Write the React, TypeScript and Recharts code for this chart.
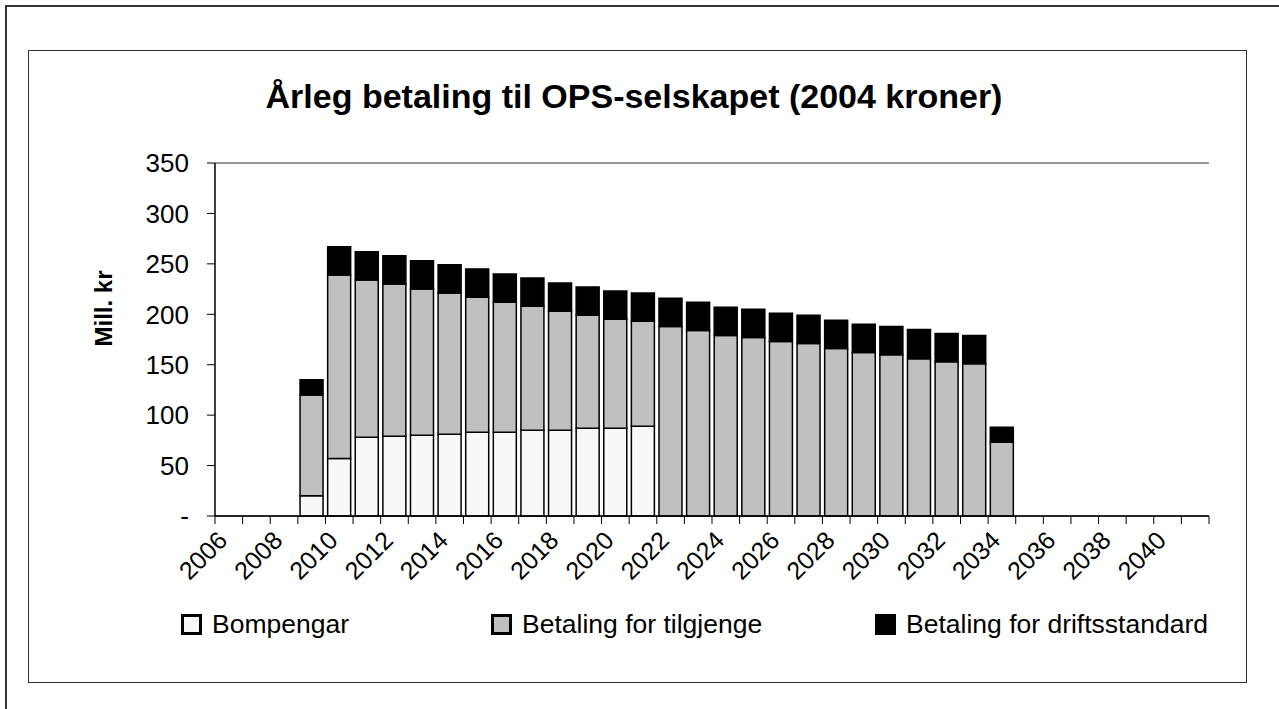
import React from "react";
import { BarChart, Bar, XAxis, YAxis, CartesianGrid, Legend, Label } from "recharts";

// category axis, one slot per year
const years = [
  "2006", "2007", "2008", "2009", "2010", "2011", "2012", "2013", "2014", "2015",
  "2016", "2017", "2018", "2019", "2020", "2021", "2022", "2023", "2024", "2025",
  "2026", "2027", "2028", "2029", "2030", "2031", "2032", "2033", "2034", "2035",
  "2036", "2037", "2038", "2039", "2040", "2041",
];

// Mill. kr per year
const bompengar = [
  null, null, null, 20, 57, 78, 79, 80, 81, 83,
  83, 85, 85, 87, 87, 89, null, null, null, null,
  null, null, null, null, null, null, null, null, null, null,
  null, null, null, null, null, null,
];
const tilgjenge = [
  null, null, null, 100, 182, 156, 151, 145, 140, 134,
  129, 123, 118, 112, 108, 104, 188, 184, 179, 177,
  173, 171, 166, 162, 160, 156, 153, 151, 73, null,
  null, null, null, null, null, null,
];
const drift = [
  null, null, null, 15, 28, 28, 28, 28, 28, 28,
  28, 28, 28, 28, 28, 28, 28, 28, 28, 28,
  28, 28, 28, 28, 28, 29, 28, 28, 15, null,
  null, null, null, null, null, null,
];

const yTicks = [0, 50, 100, 150, 200, 250, 300, 350];

const seriesNames = ["Bompengar", "Betaling for tilgjenge", "Betaling for driftsstandard"];
const seriesColors = ["#f8f8f8", "#c0c0c0", "#000000"];

const data = years.map((year, i) => ({
  year,
  bompengar: bompengar[i],
  tilgjenge: tilgjenge[i],
  drift: drift[i],
}));

const W = 1279;
const H = 709;
const M = { top: 163, right: 70, left: 0, bottom: 133 };
const Y_AXIS_W = 215;
const X_AXIS_H = 60;
const plotW = W - M.left - M.right - Y_AXIS_W;
const step = plotW / years.length;
const font = "Arial, 'Liberation Sans', Helvetica, sans-serif";

const XTick = (props: any) => {
  const { x, y, payload, index } = props;
  const left = x - step / 2;
  return (
    <g>
      <line x1={left} x2={left} y1={y} y2={y + 8} stroke="#000" strokeWidth={1} />
      {index === years.length - 1 && (
        <line x1={x + step / 2} x2={x + step / 2} y1={y} y2={y + 8} stroke="#000" strokeWidth={1} />
      )}
      {index % 2 === 0 && (
        <text
          transform={`translate(${x},${y + 26}) rotate(-45)`}
          textAnchor="end"
          fontSize={25}
          fontFamily={font}
          fill="#000"
        >
          {payload.value}
        </text>
      )}
    </g>
  );
};

const renderLegend = () => {
  const lefts = [181, 491, 875];
  return (
    <div style={{ position: "relative", height: 30, fontFamily: font, fontSize: 26.5 }}>
      {seriesNames.map((name, i) => (
        <div
          key={name}
          style={{ position: "absolute", left: lefts[i], top: 0, display: "flex", alignItems: "center", whiteSpace: "nowrap" }}
        >
          <span
            style={{
              display: "inline-block",
              boxSizing: "border-box",
              width: 21,
              height: 21,
              background: seriesColors[i],
              border: "3px solid #000",
              marginRight: 10,
            }}
          />
          <span>{name}</span>
        </div>
      ))}
    </div>
  );
};

export default function App() {
  return (
    <div style={{ position: "absolute", left: 0, top: 0, width: W, height: H, overflow: "hidden", background: "#fff" }}>
      <div style={{ position: "absolute", left: 5, top: 5, width: 1300, height: 730, border: "2px solid #333" }} />
      <div style={{ position: "absolute", left: 28, top: 50, width: 1217, height: 631, border: "1.5px solid #333" }} />
      <div
        style={{
          position: "absolute",
          left: 0,
          top: 77,
          width: 1268,
          textAlign: "center",
          fontFamily: font,
          fontWeight: "bold",
          fontSize: 34,
          color: "#000",
        }}
      >
        Årleg betaling til OPS-selskapet (2004 kroner)
      </div>
      <div style={{ position: "absolute", left: 0, top: 0 }}>
        <BarChart width={W} height={H} data={data} margin={M} barCategoryGap="8%">
          <CartesianGrid vertical={false} stroke="#333" strokeWidth={1} />
          <XAxis
            dataKey="year"
            interval={0}
            height={X_AXIS_H}
            tickLine={false}
            tickSize={0}
            tickMargin={0}
            axisLine={{ stroke: "#000", strokeWidth: 1.5 }}
            tick={<XTick />}
          />
          <YAxis
            yAxisId="l"
            width={Y_AXIS_W}
            domain={[0, 350]}
            ticks={yTicks}
            interval={0}
            tickSize={8}
            tickMargin={18}
            tickLine={{ stroke: "#000" }}
            axisLine={{ stroke: "#000", strokeWidth: 1.5 }}
            tickFormatter={(v: number) => (v === 0 ? "-" : String(v))}
            tick={{ fontSize: 26, fontFamily: font, fill: "#000" }}
          >
            <Label
              value="Mill. kr"
              angle={-90}
              position="center"
              dx={-4}
              dy={-31}
              style={{ fontSize: 24, fontWeight: "bold", fontFamily: font, fill: "#000" }}
            />
          </YAxis>
          <YAxis
            yAxisId="r"
            orientation="right"
            width={0}
            domain={[0, 350]}
            tick={false}
            tickLine={false}
            axisLine={{ stroke: "#000", strokeWidth: 1 }}
          />
          <Legend
            layout="horizontal"
            verticalAlign="middle"
            align="center"
            content={renderLegend}
            wrapperStyle={{ top: 609, left: 0, width: W }}
          />
          <Bar yAxisId="l" dataKey="bompengar" name={seriesNames[0]} stackId="a" fill={seriesColors[0]} stroke="#000" strokeWidth={1.5} isAnimationActive={false} />
          <Bar yAxisId="l" dataKey="tilgjenge" name={seriesNames[1]} stackId="a" fill={seriesColors[1]} stroke="#000" strokeWidth={1.5} isAnimationActive={false} />
          <Bar yAxisId="l" dataKey="drift" name={seriesNames[2]} stackId="a" fill={seriesColors[2]} stroke="#000" strokeWidth={1.5} isAnimationActive={false} />
        </BarChart>
      </div>
    </div>
  );
}
